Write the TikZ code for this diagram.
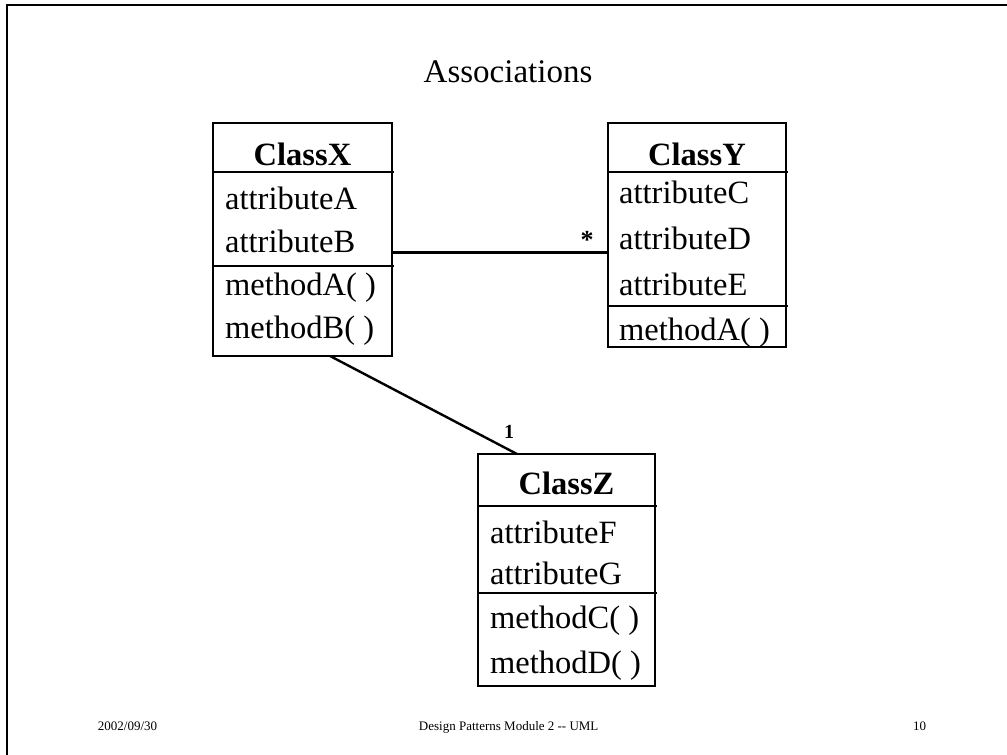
\documentclass[tikz,border=0pt]{standalone}
\usepackage{fontspec}
\setmainfont{Liberation Serif}
\usetikzlibrary{calc}
\begin{document}
\begin{tikzpicture}[x=1pt,y=-1pt,
  classbox/.style={draw, line width=2pt, anchor=north west, inner sep=0pt, outer sep=0pt},
  member/.style={anchor=base west, inner sep=0pt, font=\fontsize{32.5}{36}\selectfont},
  cname/.style={anchor=base, inner sep=0pt, font=\fontsize{32.5}{36}\selectfont\bfseries},
  divider/.style={line width=2pt},
  assoc/.style={line width=2.4pt},
  mult/.style={inner sep=0pt, font=\fontsize{20}{22}\selectfont\bfseries},
  foot/.style={anchor=base, inner sep=0pt, font=\fontsize{13}{15}\selectfont}]
\useasboundingbox (0,0) rectangle (1007,755);
% slide frame
\draw[line width=2pt] (7,755) -- (7,5) -- (1007,5);
% title
\node[anchor=base, inner sep=0pt, font=\fontsize{33}{36}\selectfont] (title) at (508,82.7) {Associations};

% ClassX
\node[classbox, minimum width=179pt, minimum height=233pt] (cx) at (213,123) {};
\draw[divider] ($(cx.north west)+(0,49)$) -- ++(181,0);
\draw[divider] ($(cx.north west)+(0,143)$) -- ++(181,0);
\node[cname] (cxname) at (302.5,165) {ClassX};
\node[member] (xa) at (225,209.5) {attributeA};
\node[member] (xb) at (225,252.5) {attributeB};
\node[member] (xma) at (225,295.5) {methodA( )};
\node[member] (xmb) at (225,338.5) {methodB( )};

% ClassY
\node[classbox, minimum width=178pt, minimum height=224pt] (cy) at (608,123) {};
\draw[divider] ($(cy.north west)+(0,49)$) -- ++(180,0);
\draw[divider] ($(cy.north west)+(0,182.5)$) -- ++(180,0);
\node[cname] (cyname) at (697,165) {ClassY};
\node[member] (yc) at (619,203) {attributeC};
\node[member] (yd) at (619,249) {attributeD};
\node[member] (ye) at (619,295) {attributeE};
\node[member] (yma) at (619,340) {methodA( )};

% ClassZ
\node[classbox, minimum width=177pt, minimum height=232pt] (cz) at (478,454) {};
\draw[divider] ($(cz.north west)+(0,52)$) -- ++(179,0);
\draw[divider] ($(cz.north west)+(0,139)$) -- ++(179,0);
\node[cname] (czname) at (566.5,494) {ClassZ};
\node[member] (zf) at (490,543) {attributeF};
\node[member] (zg) at (490,584) {attributeG};
\node[member] (zmc) at (490,628) {methodC( )};
\node[member] (zmd) at (490,673) {methodD( )};

% associations
\draw[assoc] (cx.east |- xb.base) -- (cy.west |- xb.base);
\draw[assoc] ($(cx.south west)!0.654!(cx.south east)$) -- ($(cz.north west)!0.22!(cz.north east)$);
\node[mult, font=\fontsize{26}{28}\selectfont\bfseries] (mstar) at (587,240) {*};
\node[mult] (mone) at (509,432) {1};

% footer
\node[foot] (date) at (127.5,730) {2002/09/30};
\node[foot] (course) at (508.7,730) {Design Patterns Module 2 -{}- UML};
\node[foot] (page) at (919.7,730) {10};
\end{tikzpicture}
\end{document}
